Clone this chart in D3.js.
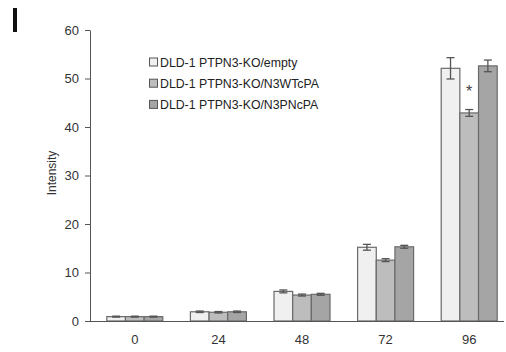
<!DOCTYPE html>
<html>
<head>
<meta charset="utf-8">
<script src="https://cdn.jsdelivr.net/npm/d3@7"></script>
<style>
  body { margin: 0; background: #fff; }
  svg { display: block; font-family: "Liberation Sans", Arial, sans-serif; }
</style>
</head>
<body>
<div id="chart"></div>
<script>
const timePoints = ['0', '24', '48', '72', '96'];
const seriesNames = ['DLD-1 PTPN3-KO/empty', 'DLD-1 PTPN3-KO/N3WTcPA', 'DLD-1 PTPN3-KO/N3PNcPA'];
const emptyValues = [0.9, 1.9, 6.1, 15.2, 52.1];
const wtValues = [0.9, 1.8, 5.35, 12.55, 42.9];
const pnValues = [0.9, 1.9, 5.5, 15.3, 52.6];
const emptyErr = [0.1, 0.15, 0.3, 0.6, 2.2];
const wtErr = [0.1, 0.15, 0.2, 0.3, 0.7];
const pnErr = [0.1, 0.15, 0.2, 0.3, 1.2];
const yTicks = [0, 10, 20, 30, 40, 50, 60];
const barColors = ['#f0f0f0', '#bdbdbd', '#a5a5a5'];

const width = 506, height = 352;
const svg = d3.select('#chart').append('svg')
  .attr('width', width)
  .attr('height', height);

// panel letter
svg.append('rect')
  .attr('x', 13).attr('y', 8).attr('width', 4).attr('height', 24)
  .attr('fill', '#111');

const x = d3.scaleBand()
  .domain(timePoints)
  .range([93, 511])
  .paddingInner(0)
  .paddingOuter(0);

const y = d3.scaleLinear()
  .domain([0, 60])
  .range([321, 30]);

const xSub = d3.scaleBand()
  .domain(d3.range(3))
  .range([0, 56]);

const series = [
  { values: emptyValues, err: emptyErr },
  { values: wtValues, err: wtErr },
  { values: pnValues, err: pnErr }
];

// y axis
const yAxis = svg.append('g')
  .attr('transform', 'translate(90,0)')
  .call(d3.axisLeft(y).tickValues(yTicks).tickSize(5).tickSizeOuter(0));
yAxis.select('.domain').attr('stroke', '#555');
yAxis.selectAll('.tick line').attr('stroke', '#555');
yAxis.selectAll('text')
  .attr('fill', '#333')
  .style('font-size', '13px')
  .attr('x', -11);

svg.append('text')
  .attr('transform', 'translate(56,173) rotate(-90)')
  .attr('text-anchor', 'middle')
  .style('font-size', '12px')
  .attr('fill', '#333')
  .text('Intensity');

// bars
series.forEach((s, si) => {
  const g = svg.append('g');
  g.selectAll('rect')
    .data(s.values)
    .enter()
    .append('rect')
    .attr('x', (d, i) => x(timePoints[i]) + x.bandwidth() / 2 - 28 + xSub(si))
    .attr('y', d => y(d))
    .attr('width', xSub.bandwidth())
    .attr('height', d => y(0) - y(d))
    .attr('fill', barColors[si])
    .attr('stroke', '#6a6a6a')
    .attr('stroke-width', 1.2);

  // error bars
  s.values.forEach((v, i) => {
    const cx = x(timePoints[i]) + x.bandwidth() / 2 - 28 + xSub(si) + xSub.bandwidth() / 2;
    const e = s.err[i];
    const eg = svg.append('g').attr('stroke', '#555').attr('stroke-width', 1.3);
    eg.append('line').attr('x1', cx).attr('x2', cx).attr('y1', y(v + e)).attr('y2', y(v - e));
    eg.append('line').attr('x1', cx - 4).attr('x2', cx + 4).attr('y1', y(v + e)).attr('y2', y(v + e));
    eg.append('line').attr('x1', cx - 4).attr('x2', cx + 4).attr('y1', y(v - e)).attr('y2', y(v - e));
  });
});

// x axis
const xAxis = svg.append('g')
  .attr('transform', `translate(0,${y(0)})`)
  .call(d3.axisBottom(x).tickSize(0).tickSizeOuter(0));
xAxis.select('.domain').attr('d', `M90,0.5H504`).attr('stroke', '#555');
xAxis.selectAll('text')
  .attr('fill', '#333')
  .attr('dy', '0')
  .attr('y', 23)
  .style('font-size', '13px');

// significance mark
const starI = 4;
svg.append('text')
  .attr('x', x(timePoints[starI]) + x.bandwidth() / 2 - 28 + xSub(1) + xSub.bandwidth() / 2)
  .attr('y', y(wtValues[starI] + wtErr[starI]) - 13)
  .attr('text-anchor', 'middle')
  .style('font-size', '16px')
  .attr('fill', '#444')
  .text('*');

// legend
const legend = svg.append('g').attr('transform', 'translate(149,62)');
seriesNames.forEach((name, i) => {
  const row = legend.append('g').attr('transform', `translate(0,${i * 21.2})`);
  row.append('rect')
    .attr('x', 0.5).attr('y', -4)
    .attr('width', 8).attr('height', 8)
    .attr('fill', barColors[i])
    .attr('stroke', '#555');
  row.append('text')
    .attr('x', 11)
    .attr('y', 4.5)
    .style('font-size', '12.3px')
    .attr('fill', '#222')
    .text(name);
});
</script>
</body>
</html>
